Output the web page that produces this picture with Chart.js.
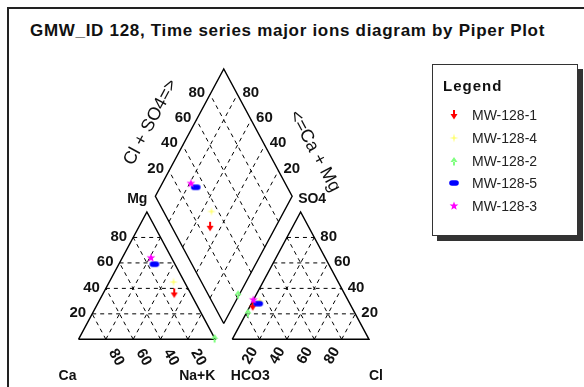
<!DOCTYPE html>
<html>
<head>
<meta charset="utf-8">
<script src="https://cdn.jsdelivr.net/npm/chart.js@4.4.0/dist/chart.umd.min.js"></script>
<style>
  html, body { margin: 0; padding: 0; background: #fff; }
  body { width: 584px; height: 387px; position: relative; overflow: hidden; font-family: "Liberation Sans", Arial, sans-serif; }
  #frame { position: absolute; left: 7px; top: 7px; width: 700px; height: 500px; border-left: 2px solid #222; border-top: 2px solid #222; }
  #title { position: absolute; left: 30px; top: 21px; font-size: 17px; font-weight: bold; letter-spacing: 0.7px; color: #111; white-space: nowrap; line-height: 20px; }
  #piper { position: absolute; left: 0; top: 0; }
  #legend { position: absolute; left: 432px; top: 64px; width: 144px; height: 170px; border: 1px solid #333; background: #fff; box-shadow: 5px 5px 0 #333; }
  #legend .lg-title { position: absolute; left: 10px; top: 12px; font-size: 15px; font-weight: bold; letter-spacing: 1px; color: #111; line-height: 18px; }
  #legend .lg-row { position: absolute; left: 0; height: 22px; line-height: 22px; font-size: 14px; color: #222; white-space: nowrap; }
  #legend .lg-row canvas { position: absolute; left: 15px; top: 5px; }
  #legend .lg-row span { position: absolute; left: 39px; top: 0; }
</style>
</head>
<body>
<div id="frame"></div>
<div id="title">GMW_ID 128, Time series major ions diagram by Piper Plot</div>
<canvas id="piper" width="584" height="387"></canvas>
<div id="legend"><div class="lg-title">Legend</div></div>

<script>
// Samples in legend order (milliequivalent percentages)
const sampleNames = ['MW-128-1', 'MW-128-4', 'MW-128-2', 'MW-128-5', 'MW-128-3'];
const seriesColors = ['#ff0000', '#ffff70', '#80ff80', '#0000ff', '#ff00ff'];
const markerShapes = ['arrowDown', 'sparkle', 'arrowUp', 'pill', 'star'];

// cations
const caPct  = [12,  8,  0, 15, 15];
const mgPct  = [36, 45,  1, 59, 64];
const naKPct = [52, 47, 99, 26, 21];
// anions
const hco3Pct = [72, 65, 78, 67, 69];
const so4Pct  = [26, 30, 21, 28, 31];
const clPct   = [ 2,  5,  1,  5,  0];

const gridTicks = [20, 40, 60, 80];

const GAP = 12.4;              // space between the two triangles (triangle side = 100)
const H = Math.sqrt(3) / 2;

// ternary -> plot units
function cationXY(ca, mg, nak) {
  const t = ca + mg + nak;
  return { x: 100 * (nak + mg / 2) / t, y: 100 * mg * H / t };
}
function anionXY(hco3, so4, cl) {
  const t = hco3 + so4 + cl;
  return { x: 100 + GAP + 100 * (cl + so4 / 2) / t, y: 100 * so4 * H / t };
}
// a = Cl + SO4, b = Ca + Mg
function diamondXY(a, b) {
  return { x: 100 + GAP / 2 + (a - b) / 2, y: GAP * H + (a + b) * H };
}

function drawMarker(ctx, shape, color, cx, cy) {
  ctx.save();
  ctx.fillStyle = color;
  ctx.beginPath();
  if (shape === 'arrowDown') {
    ctx.rect(cx - 1, cy - 5, 2, 4.5);
    ctx.moveTo(cx - 3.5, cy - 1);
    ctx.lineTo(cx + 3.5, cy - 1);
    ctx.lineTo(cx, cy + 4.5);
    ctx.closePath();
  } else if (shape === 'arrowUp') {
    ctx.moveTo(cx - 3.5, cy + 1);
    ctx.lineTo(cx + 3.5, cy + 1);
    ctx.lineTo(cx, cy - 4);
    ctx.closePath();
    ctx.rect(cx - 1, cy + 0.5, 2, 4);
  } else if (shape === 'sparkle') {
    for (let i = 0; i < 8; i++) {
      const ang = i * Math.PI / 4 - Math.PI / 2;
      const r = i % 2 === 0 ? 4.5 : 1.2;
      const x = cx + r * Math.cos(ang), y = cy + r * Math.sin(ang);
      if (i === 0) ctx.moveTo(x, y); else ctx.lineTo(x, y);
    }
    ctx.closePath();
  } else if (shape === 'pill') {
    ctx.arc(cx - 2, cy, 2.8, Math.PI / 2, Math.PI * 1.5);
    ctx.arc(cx + 2, cy, 2.8, -Math.PI / 2, Math.PI / 2);
    ctx.closePath();
  } else if (shape === 'star') {
    for (let i = 0; i < 10; i++) {
      const ang = i * Math.PI / 5 - Math.PI / 2;
      const r = i % 2 === 0 ? 4.6 : 1.9;
      const x = cx + r * Math.cos(ang), y = cy + r * Math.sin(ang);
      if (i === 0) ctx.moveTo(x, y); else ctx.lineTo(x, y);
    }
    ctx.closePath();
  }
  ctx.fill();
  ctx.restore();
}

function markerCanvas(shape, color) {
  const c = document.createElement('canvas');
  c.width = 12; c.height = 12;
  drawMarker(c.getContext('2d'), shape, color, 6, 6);
  return c;
}

function lineDataset(points, dashed) {
  return {
    data: points,
    showLine: true,
    borderColor: '#000',
    borderWidth: dashed ? 1 : 1.4,
    borderDash: dashed ? [4, 4] : [],
    pointRadius: 0,
    pointHoverRadius: 0,
    clip: false,
    order: dashed ? 30 : 20
  };
}

function buildDatasets() {
  const sets = [];

  // dashed grid inside the three fields
  gridTicks.forEach(k => {
    sets.push(lineDataset([cationXY(100 - k, k, 0), cationXY(0, k, 100 - k)], true));
    sets.push(lineDataset([cationXY(100 - k, 0, k), cationXY(0, 100 - k, k)], true));
    sets.push(lineDataset([cationXY(k, 0, 100 - k), cationXY(k, 100 - k, 0)], true));
    sets.push(lineDataset([anionXY(100 - k, k, 0), anionXY(0, k, 100 - k)], true));
    sets.push(lineDataset([anionXY(100 - k, 0, k), anionXY(0, 100 - k, k)], true));
    sets.push(lineDataset([anionXY(k, 0, 100 - k), anionXY(k, 100 - k, 0)], true));
    sets.push(lineDataset([diamondXY(k, 0), diamondXY(k, 100)], true));
    sets.push(lineDataset([diamondXY(0, k), diamondXY(100, k)], true));
  });

  // outlines
  sets.push(lineDataset([cationXY(100, 0, 0), cationXY(0, 0, 100), cationXY(0, 100, 0), cationXY(100, 0, 0)], false));
  sets.push(lineDataset([anionXY(100, 0, 0), anionXY(0, 0, 100), anionXY(0, 100, 0), anionXY(100, 0, 0)], false));
  sets.push(lineDataset([diamondXY(0, 0), diamondXY(100, 0), diamondXY(100, 100), diamondXY(0, 100), diamondXY(0, 0)], false));

  // samples: cation point, anion point, diamond point
  sampleNames.forEach((name, i) => {
    sets.push({
      label: name,
      data: [
        cationXY(caPct[i], mgPct[i], naKPct[i]),
        anionXY(hco3Pct[i], so4Pct[i], clPct[i]),
        diamondXY(so4Pct[i] + clPct[i], caPct[i] + mgPct[i])
      ],
      pointStyle: markerCanvas(markerShapes[i], seriesColors[i]),
      pointRadius: 6,
      showLine: false,
      clip: false,
      order: 10 - i
    });
  });
  return sets;
}

function rotatedText(ctx, text, p, angle, dist) {
  ctx.save();
  ctx.translate(p.x, p.y);
  ctx.rotate(angle);
  ctx.textAlign = 'center';
  ctx.fillText(text, dist, 0);
  ctx.restore();
}

const piperLabels = {
  id: 'piperLabels',
  afterDatasetsDraw(chart) {
    const ctx = chart.ctx;
    const sx = chart.scales.x, sy = chart.scales.y;
    const px = p => ({ x: sx.getPixelForValue(p.x), y: sy.getPixelForValue(p.y) });
    ctx.save();
    ctx.fillStyle = '#111';
    ctx.textBaseline = 'middle';
    ctx.font = 'bold 15px "Liberation Sans", Arial, sans-serif';

    gridTicks.forEach(k => {
      let p = px(cationXY(100 - k, k, 0));
      ctx.textAlign = 'right';
      ctx.fillText(k, p.x - 6, p.y - 1);

      p = px(anionXY(0, k, 100 - k));
      ctx.textAlign = 'left';
      ctx.fillText(k, p.x + 6, p.y - 1);

      p = px(diamondXY(k, 100));
      ctx.textAlign = 'right';
      ctx.fillText(k, p.x - 5, p.y - 2);

      p = px(diamondXY(100, k));
      ctx.textAlign = 'left';
      ctx.fillText(k, p.x + 5, p.y - 2);

      rotatedText(ctx, k, px(cationXY(k, 0, 100 - k)), Math.PI / 3, 21);
      rotatedText(ctx, k, px(anionXY(100 - k, 0, k)), -Math.PI / 3, -19);
    });

    // corner names
    ctx.font = 'bold 14px "Liberation Sans", Arial, sans-serif';
    ctx.textAlign = 'center';
    let p = px(cationXY(100, 0, 0));
    ctx.fillText('Ca', p.x - 11, p.y + 37);
    p = px(cationXY(0, 0, 100));
    ctx.fillText('Na+K', p.x - 18, p.y + 37);
    p = px(anionXY(100, 0, 0));
    ctx.fillText('HCO3', p.x + 18, p.y + 37);
    p = px(anionXY(0, 0, 100));
    ctx.fillText('Cl', p.x + 7, p.y + 37);
    p = px(diamondXY(0, 100));
    ctx.textAlign = 'right';
    ctx.fillText('Mg', p.x - 8, p.y + 3);
    p = px(diamondXY(100, 0));
    ctx.textAlign = 'left';
    ctx.fillText('SO4', p.x + 6, p.y + 3);

    // diamond edge titles
    ctx.font = '18px "Liberation Sans", Arial, sans-serif';
    ctx.textAlign = 'center';
    const edgeTitle = (text, from, to, frac, off) => {
      const a = px(from), b = px(to);
      const len = Math.hypot(b.x - a.x, b.y - a.y);
      const dx = (b.x - a.x) / len, dy = (b.y - a.y) / len;
      const cx = a.x + (b.x - a.x) * frac + dy * off;
      const cy = a.y + (b.y - a.y) * frac - dx * off;
      ctx.save();
      ctx.translate(cx, cy);
      ctx.rotate(Math.atan2(dy, dx));
      ctx.fillText(text, 0, 0);
      ctx.restore();
    };
    edgeTitle('Cl + SO4=>', diamondXY(0, 100), diamondXY(100, 100), 0.435, 39);
    edgeTitle('<=Ca + Mg', diamondXY(100, 100), diamondXY(100, 0), 0.8, 41);

    ctx.restore();
  }
};

new Chart(document.getElementById('piper'), {
  type: 'scatter',
  data: { datasets: buildDatasets() },
  options: {
    responsive: false,
    animation: false,
    events: [],
    layout: { padding: { left: 78.5, right: 215, top: 68.9, bottom: 47.7 } },
    scales: {
      x: { type: 'linear', min: 0, max: 200 + GAP, display: false },
      y: { type: 'linear', min: 0, max: (200 + GAP) * H, display: false }
    },
    plugins: { legend: { display: false }, tooltip: { enabled: false } }
  },
  plugins: [piperLabels]
});

// legend box
const legendBox = document.getElementById('legend');
sampleNames.forEach((name, i) => {
  const row = document.createElement('div');
  row.className = 'lg-row';
  row.style.top = (50 + i * 22.8 - 11) + 'px';
  row.appendChild(markerCanvas(markerShapes[i], seriesColors[i]));
  const label = document.createElement('span');
  label.textContent = name;
  row.appendChild(label);
  legendBox.appendChild(row);
});
</script>
</body>
</html>
